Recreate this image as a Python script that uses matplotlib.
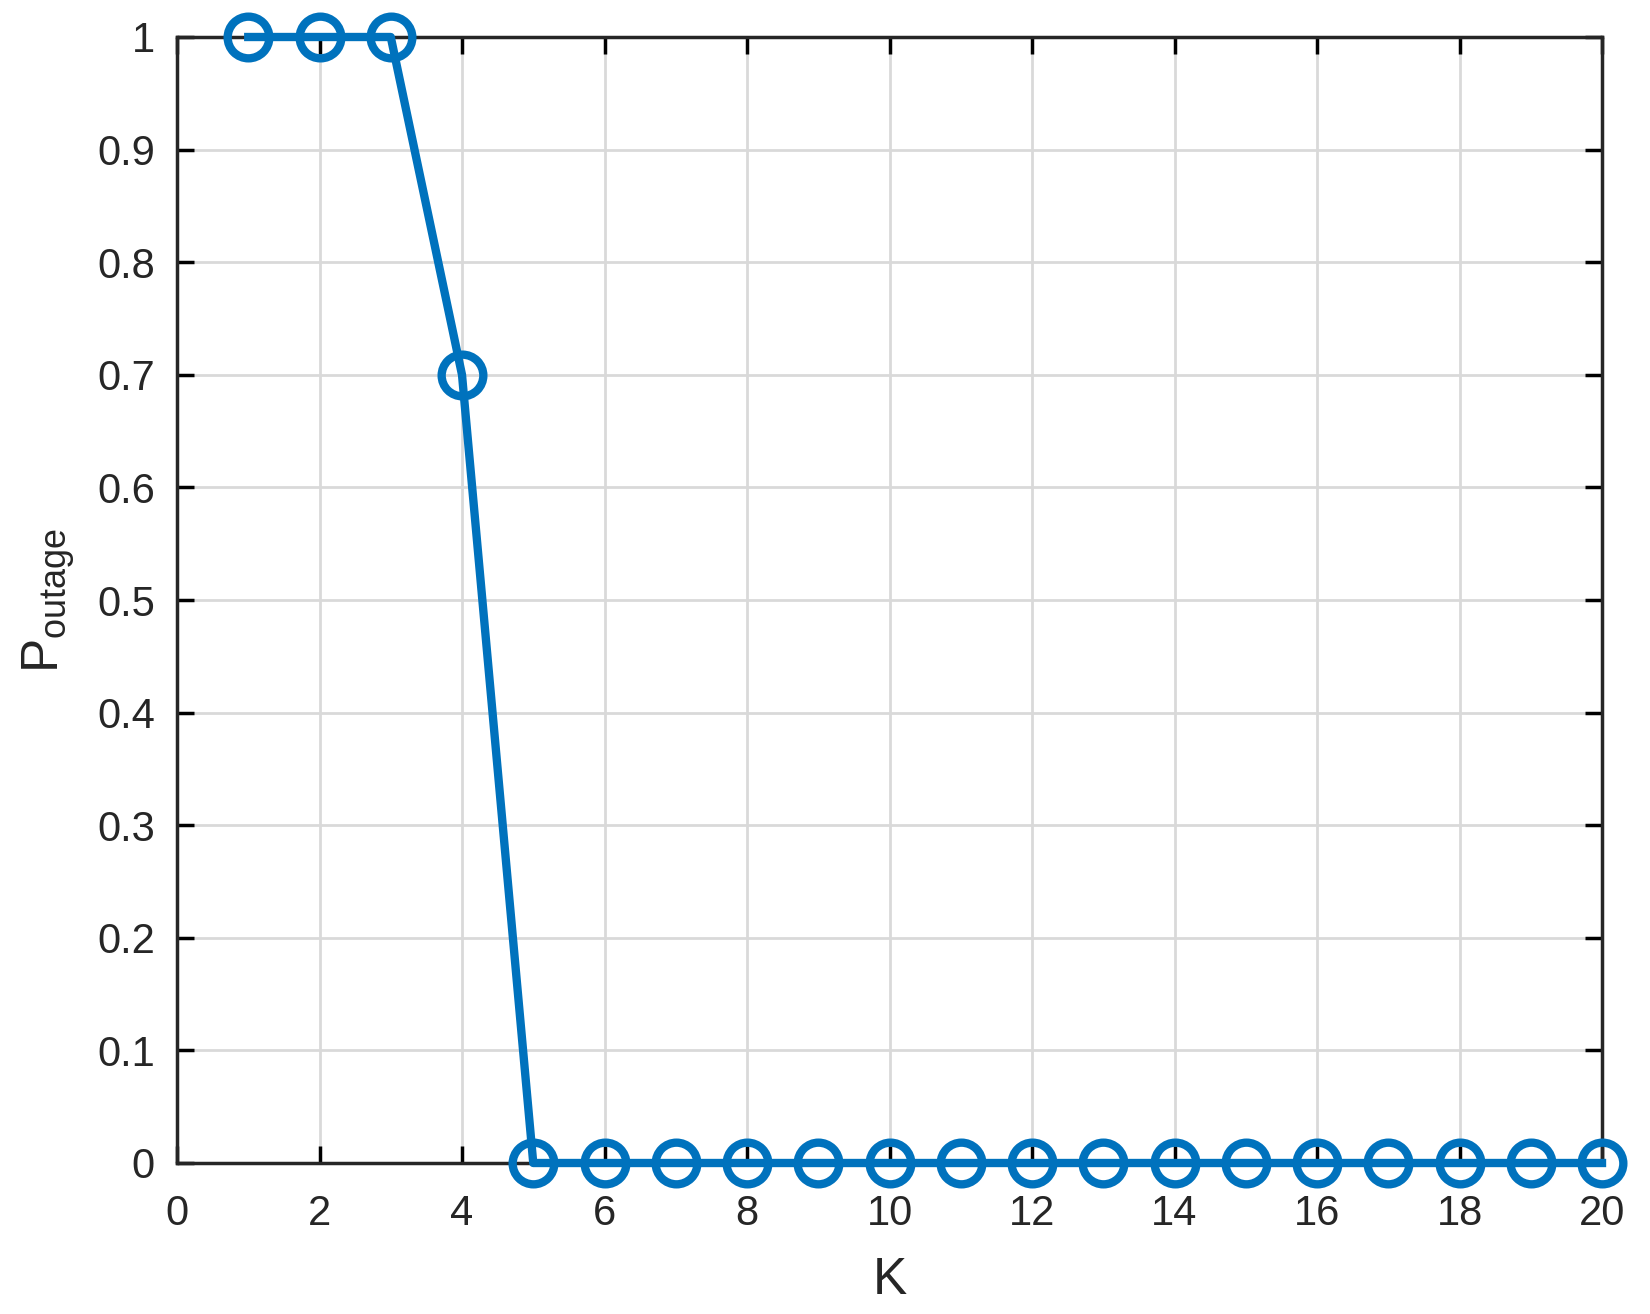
import numpy as np
import matplotlib.pyplot as plt

# outage probability vs K
K = list(range(1, 21))
p_outage = [1, 1, 1, 0.7] + [0] * 16

x_ticks = list(range(0, 21, 2))
y_ticks = [0, 0.1, 0.2, 0.3, 0.4, 0.5, 0.6, 0.7, 0.8, 0.9, 1]
y_ticklabels = ["0", "0.1", "0.2", "0.3", "0.4", "0.5", "0.6", "0.7", "0.8", "0.9", "1"]

plt.rcParams["font.family"] = ["Liberation Sans", "DejaVu Sans"]
plt.rcParams["mathtext.fontset"] = "custom"
plt.rcParams["mathtext.rm"] = "Liberation Sans"

fig = plt.figure(figsize=(16.5, 13.14), dpi=100)
ax = fig.add_axes([177 / 1650, 151 / 1314, 1425 / 1650, 1126 / 1314])

ax.plot(K, p_outage, color="#0072BD", lw=6, marker="o", ms=30,
        mfc="none", mec="#0072BD", mew=6, clip_on=False, zorder=3)

ax.set_xlim(0, 20)
ax.set_ylim(0, 1)
ax.set_xticks(x_ticks)
ax.set_yticks(y_ticks)
ax.set_yticklabels(y_ticklabels)
ax.grid(True, color="#d9d9d9", lw=2)
ax.set_axisbelow(True)

ax.tick_params(direction="in", length=12, width=2.5, top=True, right=True,
               labelsize=30, labelcolor="#262626")
ax.tick_params(axis="x", pad=22)
ax.tick_params(axis="y", pad=16)
for s in ax.spines.values():
    s.set_linewidth(2.5)
    s.set_color("#262626")

ax.set_xlabel("K", fontsize=37, color="#262626", labelpad=16)
ax.set_ylabel(r"P$_{\mathrm{outage}}$", fontsize=37, color="#262626", labelpad=14)

fig.savefig("out.png", dpi=100)
